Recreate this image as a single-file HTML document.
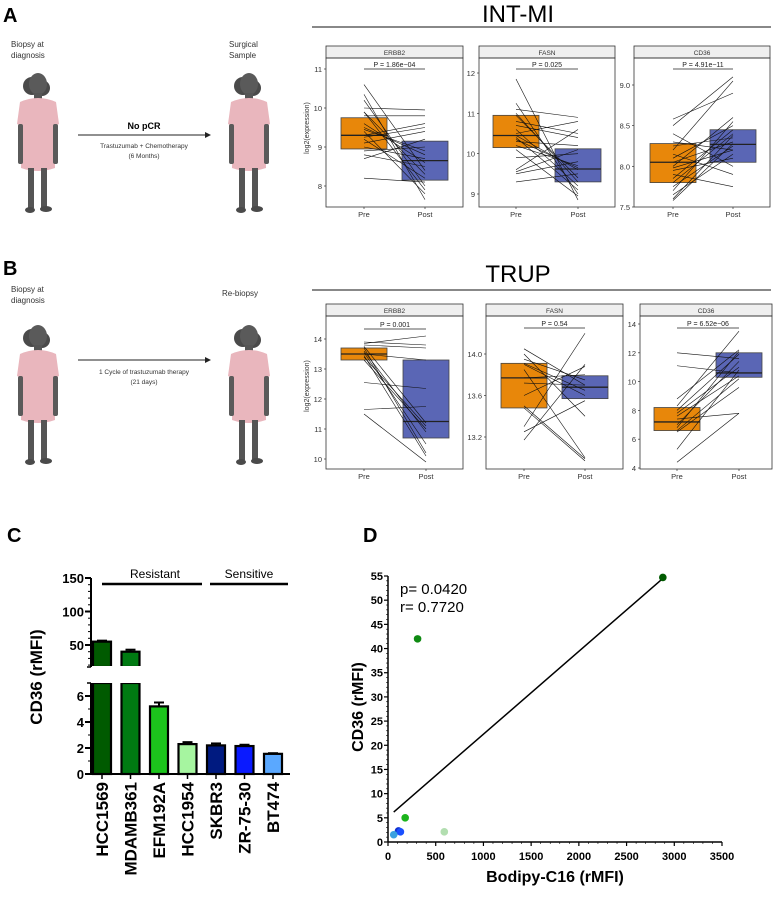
<!DOCTYPE html>
<html><head><meta charset="utf-8">
<style>
html,body{margin:0;padding:0;background:#fff;}
svg{display:block;font-family:"Liberation Sans",sans-serif;}
</style></head>
<body>
<svg id="fig" width="778" height="903" viewBox="0 0 778 903">
<defs>
<marker id="arr" markerWidth="6" markerHeight="6" refX="5" refY="3" orient="auto"><path d="M0,0 L6,3 L0,6 z" fill="#222"/></marker>
<g id="person">
  <ellipse cx="-6" cy="-6" rx="9" ry="9" fill="#4a4a4a"/>
  <ellipse cx="4" cy="-4" rx="8" ry="8" fill="#4a4a4a"/>
  <ellipse cx="0" cy="-8" rx="9" ry="11" fill="#5a5a5a"/>
  <rect x="-4" y="1" width="8" height="8" fill="#555"/>
  <path d="M-18,10 Q0,2 18,10 L21,32 L16,34 L17,76 Q0,82 -17,76 L-16,34 L-21,32 Z" fill="#e9b6bd"/>
  <rect x="-20" y="32" width="5" height="40" rx="2" fill="#5a5a5a"/>
  <rect x="15" y="32" width="5" height="40" rx="2" fill="#5a5a5a"/>
  <rect x="-10" y="76" width="6" height="40" fill="#555"/>
  <rect x="3" y="76" width="6" height="40" fill="#555"/>
  <ellipse cx="-8" cy="118" rx="5" ry="3" fill="#4a4a4a"/>
  <ellipse cx="8" cy="117" rx="6" ry="3" fill="#4a4a4a"/>
</g>
</defs>

<!-- Panel A illustration -->
<text x="3" y="22" font-size="20" font-weight="bold">A</text>
<text x="11" y="47" font-size="8" fill="#333"><tspan x="11">Biopsy at</tspan><tspan x="11" dy="11">diagnosis</tspan></text>
<use href="#person" x="38" y="92"/>
<text x="229" y="47" font-size="8" fill="#333"><tspan x="229">Surgical</tspan><tspan x="229" dy="11">Sample</tspan></text>
<use href="#person" x="249" y="92"/>
<line x1="78" y1="135" x2="210" y2="135" stroke="#222" stroke-width="1" marker-end="url(#arr)"/>
<text x="144" y="129" font-size="9" font-weight="bold" text-anchor="middle">No pCR</text>
<text x="144" y="148" font-size="6.5" text-anchor="middle" fill="#333"><tspan x="144">Trastuzumab + Chemotherapy</tspan><tspan x="144" dy="10">(6 Months)</tspan></text>

<!-- Panel B illustration -->
<text x="3" y="275" font-size="20" font-weight="bold">B</text>
<text x="11" y="292" font-size="8" fill="#333"><tspan x="11">Biopsy at</tspan><tspan x="11" dy="11">diagnosis</tspan></text>
<use href="#person" x="38" y="344"/>
<text x="222" y="296" font-size="8" fill="#333">Re-biopsy</text>
<use href="#person" x="249" y="344"/>
<line x1="78" y1="360" x2="210" y2="360" stroke="#222" stroke-width="1" marker-end="url(#arr)"/>
<text x="144" y="374" font-size="6.5" text-anchor="middle" fill="#333"><tspan x="144">1 Cycle of trastuzumab therapy</tspan><tspan x="144" dy="10">(21 days)</tspan></text>

<!-- Titles -->
<text x="518" y="22" font-size="24" text-anchor="middle">INT-MI</text>
<line x1="312" y1="27" x2="771" y2="27" stroke="#111" stroke-width="1"/>
<text x="518" y="282" font-size="24" text-anchor="middle">TRUP</text>
<line x1="312" y1="290" x2="771" y2="290" stroke="#111" stroke-width="1"/>
<text transform="translate(309,128) rotate(-90)" font-size="7" text-anchor="middle" fill="#333">log2(expression)</text>
<text transform="translate(309,386) rotate(-90)" font-size="7" text-anchor="middle" fill="#333">log2(expression)</text>

<g id="boxes"></g>
<g id="chartC"></g>
<g id="chartD"></g>
</svg>

<script>
// ---- Panel A/B data ----
const aErbb2Stats = {pre:[8.95,9.3,9.75], post:[8.15,8.65,9.15]};
const aErbb2Pre  = [10.6,10.35,10.2,10.0,9.9,9.8,9.6,9.45,9.4,9.3,9.2,9.1,9.0,8.9,8.8,8.7,8.2,9.9,9.5,9.25];
const aErbb2Post = [8.4,7.65,8.0,9.95,8.3,9.8,8.6,8.9,7.8,9.6,8.2,9.4,8.7,9.0,8.5,9.2,8.1,7.9,8.8,9.5];
const aErbb2Ticks = [8,9,10,11];
const aFasnStats = {pre:[10.15,10.45,10.95], post:[9.3,9.62,10.12]};
const aFasnPre  = [11.85,11.25,11.1,10.95,10.8,10.6,10.5,10.45,10.4,10.3,10.2,10.1,9.9,9.6,9.5,9.3,11.0,10.7,10.35,9.55];
const aFasnPost = [8.85,9.0,10.9,9.4,10.5,9.2,10.8,9.6,9.1,10.2,9.7,8.95,10.0,10.6,9.8,9.5,9.3,10.4,9.65,10.1];
const aFasnTicks = [9,10,11,12];
const aCd36Stats = {pre:[7.8,8.05,8.28], post:[8.05,8.27,8.45]};
const aCd36Pre  = [8.58,8.5,8.4,8.3,8.25,8.2,8.1,8.05,8.0,7.95,7.9,7.85,7.8,7.75,7.7,7.65,7.6,7.58,8.15,7.98];
const aCd36Post = [8.9,9.1,8.0,8.2,8.35,9.05,8.5,8.3,8.6,8.1,7.75,8.45,8.4,8.25,8.55,8.15,8.38,8.28,7.9,8.2];
const aCd36Ticks = [7.5,8.0,8.5,9.0];
const bErbb2Stats = {pre:[13.3,13.5,13.7], post:[10.7,11.25,13.3]};
const bErbb2Pre  = [13.9,13.85,13.8,13.75,13.7,13.6,13.5,13.45,13.4,13.3,12.55,11.65,11.5,13.55];
const bErbb2Post = [13.8,14.1,13.7,11.2,10.2,10.9,13.3,10.1,11.1,11.0,12.35,11.75,9.9,10.5];
const bErbb2Ticks = [10,11,12,13,14];
const bFasnStats = {pre:[13.48,13.77,13.91], post:[13.57,13.68,13.79]};
const bFasnPre  = [14.05,14.0,13.95,13.91,13.85,13.77,13.72,13.6,13.48,13.3,13.25,13.17,13.5,13.9];
const bFasnPost = [13.7,13.4,13.75,13.65,13.0,13.8,13.7,13.88,12.97,14.2,13.55,13.9,12.99,13.6];
const bFasnTicks = [13.2,13.6,14.0];
const bCd36Stats = {pre:[6.6,7.2,8.2], post:[10.3,10.6,12.0]};
const bCd36Pre  = [12.0,11.1,8.8,8.3,8.0,7.6,7.4,7.0,6.8,6.6,6.5,5.3,4.4,7.8];
const bCd36Post = [11.6,10.6,12.2,13.5,11.9,10.4,7.8,11.4,12.1,10.2,9.6,10.8,7.8,11.0];
const bCd36Ticks = [4,6,8,10,12,14];

const NS="http://www.w3.org/2000/svg";
function mk(parent, tag, attrs){const e=document.createElementNS(NS,tag);for(const k in attrs)e.setAttribute(k,attrs[k]);parent.appendChild(e);return e;}

function boxPanel(p){
  const g=mk(document.getElementById('boxes'),'g',{});
  
  
  const y=v=>p.y0-(v-p.v0)*p.k;
  const xs=[p.xPre,p.xPost];
  const strip=mk(g,'rect',{x:p.x1,y:p.top,width:p.x2-p.x1,height:12,fill:'#efefef',stroke:'#333','stroke-width':0.8});
  
  
  const st=mk(g,'text',{x:(p.x1+p.x2)/2,y:p.top+9,'font-size':6.5,'text-anchor':'middle',fill:'#333'});
  st.textContent=p.title;
  
  
  const fr=mk(g,'rect',{x:p.x1,y:p.top+12,width:p.x2-p.x1,height:p.bottom-p.top-12,fill:'none',stroke:'#333','stroke-width':0.8});
  
  
  p.ticks.forEach((t,i)=>{
    mk(g,'line',{x1:p.x1-2,x2:p.x1,y1:y(t),y2:y(t),stroke:'#333','stroke-width':0.7});
    const tl=mk(g,'text',{x:p.x1-4,y:y(t)+3,'font-size':7.5,'text-anchor':'end',fill:'#333'});
    tl.textContent=p.tickLabels?p.tickLabels[i]:String(t);
    
    
  });
  ['Pre','Post'].forEach((lab,i)=>{
    mk(g,'line',{x1:xs[i],x2:xs[i],y1:p.bottom,y2:p.bottom+2,stroke:'#333','stroke-width':0.7});
    const xl=mk(g,'text',{x:xs[i],y:p.bottom+10,'font-size':7.5,'text-anchor':'middle',fill:'#333'});
    xl.textContent=lab;
    
    
  });
  [['pre','#e8870a'],['post','#5a66b5']].forEach(([key,col],i)=>{
    const s=p.stats[key];
    const b=mk(g,'rect',{x:xs[i]-23,y:y(s[2]),width:46,height:y(s[0])-y(s[2]),fill:col,stroke:'#444','stroke-width':0.8});
    
    
    const m=mk(g,'line',{x1:xs[i]-23,x2:xs[i]+23,y1:y(s[1]),y2:y(s[1]),stroke:'#222','stroke-width':1.3});
    
    
  });
  p.pre.forEach((v,i)=>{
    const l=mk(g,'line',{x1:p.xPre,y1:y(v),x2:p.xPost,y2:y(p.post[i]),stroke:'#111','stroke-width':0.6});
    
    
  });
  const pl=mk(g,'line',{x1:p.xPre,x2:p.xPost,y1:p.pY,y2:p.pY,stroke:'#222','stroke-width':0.8});
  
  
  const pt=mk(g,'text',{x:(p.xPre+p.xPost)/2,y:p.pY-2,'font-size':7,'text-anchor':'middle',fill:'#222'});
  pt.textContent=p.pText;
  
  
}
boxPanel({id:'a-erbb2',title:'ERBB2',x1:326,x2:463,top:46,bottom:207,xPre:364,xPost:425,y0:69,v0:11,k:39,ticks:aErbb2Ticks,stats:aErbb2Stats,pre:aErbb2Pre,post:aErbb2Post,pY:69,pText:'P = 1.86e−04'});
boxPanel({id:'a-fasn',title:'FASN',x1:479,x2:615,top:46,bottom:207,xPre:516,xPost:578,y0:73,v0:12,k:40.33,ticks:aFasnTicks,stats:aFasnStats,pre:aFasnPre,post:aFasnPost,pY:69,pText:'P = 0.025'});
boxPanel({id:'a-cd36',title:'CD36',x1:634,x2:770,top:46,bottom:207,xPre:673,xPost:733,y0:85,v0:9,k:81.33,ticks:aCd36Ticks,tickLabels:['7.5','8.0','8.5','9.0'],stats:aCd36Stats,pre:aCd36Pre,post:aCd36Post,pY:69,pText:'P = 4.91e−11'});
boxPanel({id:'b-erbb2',title:'ERBB2',x1:326,x2:463,top:304,bottom:469,xPre:364,xPost:426,y0:339,v0:14,k:30,ticks:bErbb2Ticks,stats:bErbb2Stats,pre:bErbb2Pre,post:bErbb2Post,pY:329,pText:'P = 0.001'});
boxPanel({id:'b-fasn',title:'FASN',x1:486,x2:623,top:304,bottom:469,xPre:524,xPost:585,y0:354,v0:14,k:103.75,ticks:bFasnTicks,tickLabels:['13.2','13.6','14.0'],stats:bFasnStats,pre:bFasnPre,post:bFasnPost,pY:328,pText:'P = 0.54'});
boxPanel({id:'b-cd36',title:'CD36',x1:640,x2:772,top:304,bottom:469,xPre:677,xPost:739,y0:324,v0:14,k:14.4,ticks:bCd36Ticks,stats:bCd36Stats,pre:bCd36Pre,post:bCd36Post,pY:328,pText:'P = 6.52e−06'});

// ---- Panel C data ----
const cLines = ['HCC1569','MDAMB361','EFM192A','HCC1954','SKBR3','ZR-75-30','BT474'];
const cValues = [55,40,5.2,2.3,2.2,2.15,1.55];
const cErrors = [1.5,3,0.3,0.15,0.15,0.1,0.05];
const cColors = ['#005a00','#007a12','#1cc41c','#a6f5a0','#001a80','#0a1aff','#5aa8ff'];
const cUpperTicks = [50,100,150];
const cLowerTicks = [0,2,4,6];
(function(){
  const g=document.getElementById('chartC');
  const ax=91, x0=102, step=28.5;
  const yU=v=>645-(v-50)*0.67;
  const yL=v=>774-v*13;
  const t=mk(g,'text',{x:7,y:542,'font-size':20,'font-weight':'bold'});t.textContent='C';
  
  
  cValues.forEach((v,i)=>{
    const cx=x0+i*step;
    if(v>7){
      const b1=mk(g,'rect',{x:cx-9,y:yL(7),width:18,height:yL(0)-yL(7),fill:cColors[i],stroke:'#000','stroke-width':2.2});
      
      
      const b2=mk(g,'rect',{x:cx-9,y:yU(v),width:18,height:667-yU(v),fill:cColors[i],stroke:'#000','stroke-width':2.2});
      
      
      mk(g,'rect',{x:cx-11,y:666,width:22,height:17,fill:'#fff'});
      const e=mk(g,'line',{x1:cx,x2:cx,y1:yU(v),y2:yU(v+cErrors[i]),stroke:'#000','stroke-width':2});
      
      
      mk(g,'line',{x1:cx-5,x2:cx+5,y1:yU(v+cErrors[i]),y2:yU(v+cErrors[i]),stroke:'#000','stroke-width':2});
    } else {
      const b=mk(g,'rect',{x:cx-9,y:yL(v),width:18,height:yL(0)-yL(v),fill:cColors[i],stroke:'#000','stroke-width':2.2});
      
      
      const e=mk(g,'line',{x1:cx,x2:cx,y1:yL(v),y2:yL(v+cErrors[i]),stroke:'#000','stroke-width':2});
      
      
      mk(g,'line',{x1:cx-5,x2:cx+5,y1:yL(v+cErrors[i]),y2:yL(v+cErrors[i]),stroke:'#000','stroke-width':2});
    }
    mk(g,'line',{x1:cx,x2:cx,y1:774,y2:779,stroke:'#000','stroke-width':1.5});
    const lab=mk(g,'text',{transform:`translate(${cx+6},${782}) rotate(-90)`,'font-size':17,'font-weight':'bold','text-anchor':'end'});
    lab.textContent=cLines[i];
    
    
  });
  const a1=mk(g,'line',{x1:ax,x2:ax,y1:578,y2:667,stroke:'#000','stroke-width':2});
  
  
  const a2=mk(g,'line',{x1:ax,x2:ax,y1:683,y2:775,stroke:'#000','stroke-width':2});
  
  
  const a3=mk(g,'line',{x1:ax,x2:290,y1:774,y2:774,stroke:'#000','stroke-width':2});
  
  
  mk(g,'line',{x1:ax-4,x2:ax,y1:667,y2:667,stroke:'#000','stroke-width':1.5});
  mk(g,'line',{x1:ax-4,x2:ax,y1:683,y2:683,stroke:'#000','stroke-width':1.5});
  for(let v=20;v<=150;v+=10){mk(g,'line',{x1:ax-3,x2:ax,y1:yU(v),y2:yU(v),stroke:'#000','stroke-width':1});}
  for(let v=1;v<=7;v+=1){mk(g,'line',{x1:ax-3,x2:ax,y1:yL(v),y2:yL(v),stroke:'#000','stroke-width':1});}
  cUpperTicks.forEach(v=>{
    mk(g,'line',{x1:ax-6,x2:ax,y1:yU(v),y2:yU(v),stroke:'#000','stroke-width':2});
    const tl=mk(g,'text',{x:ax-7,y:yU(v)+5,'font-size':13,'font-weight':'bold','text-anchor':'end'});
    tl.textContent=v;
    
    
  });
  cLowerTicks.forEach(v=>{
    mk(g,'line',{x1:ax-6,x2:ax,y1:yL(v),y2:yL(v),stroke:'#000','stroke-width':2});
    const tl=mk(g,'text',{x:ax-7,y:yL(v)+5,'font-size':13,'font-weight':'bold','text-anchor':'end'});
    tl.textContent=v;
    
    
  });
  const yt=mk(g,'text',{transform:'translate(42,677) rotate(-90)','font-size':17,'font-weight':'bold','text-anchor':'middle'});
  yt.textContent='CD36 (rMFI)';
  
  
  const r=mk(g,'line',{x1:102,x2:202,y1:584,y2:584,stroke:'#000','stroke-width':2.5});
  
  
  const rt=mk(g,'text',{x:155,y:578,'font-size':12,'text-anchor':'middle'});rt.textContent='Resistant';
  
  
  const s=mk(g,'line',{x1:210,x2:288,y1:584,y2:584,stroke:'#000','stroke-width':2.5});
  
  
  const stx=mk(g,'text',{x:249,y:578,'font-size':12,'text-anchor':'middle'});stx.textContent='Sensitive';
  
  
})();

// ---- Panel D data ----
const dX = [2880,310,180,590,110,130,60];
const dY = [54.7,42,5,2.1,2.3,2.1,1.5];
const dColors = ['#005a00','#0f8a12','#1cb41c','#b2deb0','#1030d0','#1a50ff','#3aa0e0'];
const dFitX = [60,2880];
const dFitY = [6.2,54.5];
const dXTicks = [0,500,1000,1500,2000,2500,3000,3500];
const dYTicks = [0,5,10,15,20,25,30,35,40,45,50,55];
(function(){
  const g=document.getElementById('chartD');
  const sx=v=>388+v*(334/3500);
  const sy=v=>842-v*(266/55);
  const t=mk(g,'text',{x:363,y:542,'font-size':20,'font-weight':'bold'});t.textContent='D';
  
  
  const ya=mk(g,'line',{x1:388,x2:388,y1:sy(55),y2:842,stroke:'#000','stroke-width':1.5});
  
  
  const xa=mk(g,'line',{x1:388,x2:sx(3500),y1:842,y2:842,stroke:'#000','stroke-width':1.5});
  
  
  for(let v=0;v<=55;v+=1){mk(g,'line',{x1:386,x2:388,y1:sy(v),y2:sy(v),stroke:'#000','stroke-width':0.6});}
  for(let v=0;v<=3500;v+=100){mk(g,'line',{x1:sx(v),x2:sx(v),y1:842,y2:844,stroke:'#000','stroke-width':0.6});}
  dYTicks.forEach(v=>{
    mk(g,'line',{x1:384,x2:388,y1:sy(v),y2:sy(v),stroke:'#000','stroke-width':1.2});
    const tl=mk(g,'text',{x:383,y:sy(v)+4,'font-size':11,'font-weight':'bold','text-anchor':'end'});
    tl.textContent=v;
    
    
  });
  dXTicks.forEach(v=>{
    mk(g,'line',{x1:sx(v),x2:sx(v),y1:842,y2:846,stroke:'#000','stroke-width':1.2});
    const tl=mk(g,'text',{x:sx(v),y:860,'font-size':11,'font-weight':'bold','text-anchor':'middle'});
    tl.textContent=v;
    
    
  });
  const fit=mk(g,'line',{x1:sx(dFitX[0]),y1:sy(dFitY[0]),x2:sx(dFitX[1]),y2:sy(dFitY[1]),stroke:'#000','stroke-width':1.5});
  
  
  dX.forEach((v,i)=>{
    const c=mk(g,'circle',{cx:sx(v),cy:sy(dY[i]),r:3.8,fill:dColors[i]});
    
    
  });
  const p=mk(g,'text',{x:400,y:594,'font-size':15});p.textContent='p= 0.0420';
  
  
  const r=mk(g,'text',{x:400,y:612,'font-size':15});r.textContent='r= 0.7720';
  
  
  const xt=mk(g,'text',{x:555,y:882,'font-size':16,'font-weight':'bold','text-anchor':'middle'});
  xt.textContent='Bodipy-C16 (rMFI)';
  
  
  const yt=mk(g,'text',{transform:'translate(363,707) rotate(-90)','font-size':16,'font-weight':'bold','text-anchor':'middle'});
  yt.textContent='CD36 (rMFI)';
  
  
})();
</script>
</body></html>
